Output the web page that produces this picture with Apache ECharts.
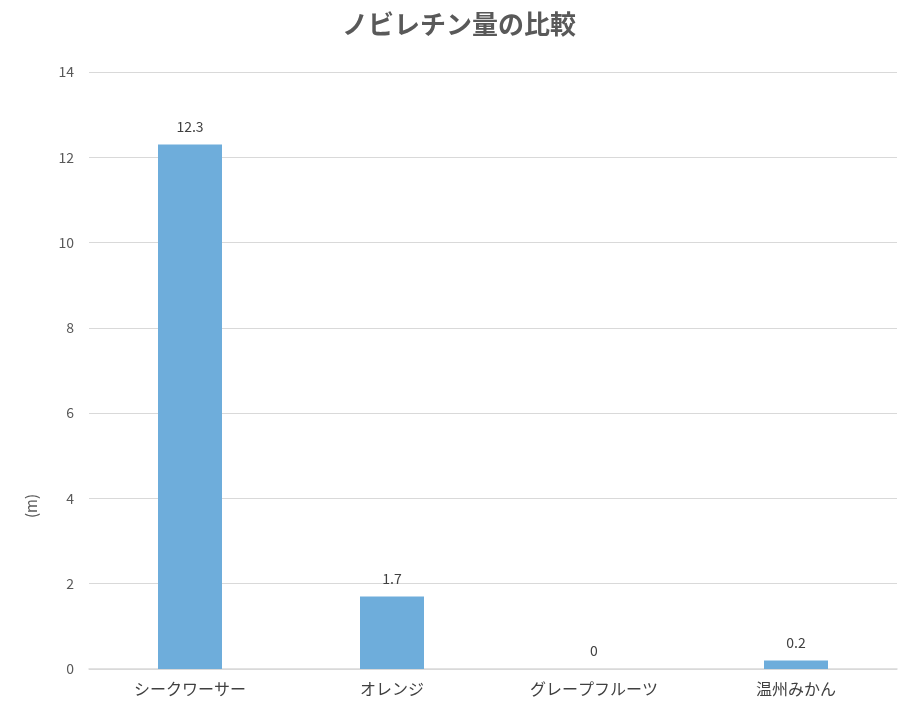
<!DOCTYPE html>
<html><head><meta charset="utf-8">
<script src="https://cdn.jsdelivr.net/npm/echarts@6/dist/echarts.min.js"></script>
<style>html,body{margin:0;padding:0;background:#fff}#c{width:918px;height:708px}</style>
</head><body><div id="c"></div>
<script>
const categories = ["シークワーサー", "オレンジ", "グレープフルーツ", "温州みかん"];
const values = [12.3, 1.7, 0, 0.2];
const yTicks = [0, 2, 4, 6, 8, 10, 12, 14];
const font = '"Noto Sans CJK JP", "Noto Sans", sans-serif';
const chart = echarts.init(document.getElementById('c'));
chart.setOption({
  animation: false,
  title: {
    text: 'ノビレチン量の比較', left: 'center', top: 6,
    textStyle: { fontFamily: font, fontSize: 26, fontWeight: 'bold', color: '#595959' }
  },
  graphic: [{
    type: 'text', left: 24, top: 494, rotation: Math.PI / 2,
    style: { text: '(m)', font: '15px ' + font, fill: '#595959' }
  }],
  grid: { left: 89, right: 21, top: 72, bottom: 39, containLabel: false },
  xAxis: {
    type: 'category', data: categories,
    axisLine: { lineStyle: { color: '#d9d9d9', width: 1.5 } },
    axisTick: { show: false },
    axisLabel: { fontFamily: font, fontSize: 16, color: '#404040', margin: 12 }
  },
  yAxis: {
    type: 'value', min: yTicks[0], max: yTicks[yTicks.length - 1], interval: 2,
    axisLine: { show: false }, axisTick: { show: false },
    axisLabel: { fontFamily: font, fontSize: 14, color: '#595959', margin: 15 },
    splitLine: { lineStyle: { color: '#d9d9d9', width: 1 } }
  },
  series: [{
    type: 'bar', data: values, barWidth: 64,
    itemStyle: { color: '#6eaddb' },
    label: { show: true, position: 'top', distance: 11, fontFamily: font, fontSize: 14, color: '#404040' }
  }]
});
</script></body></html>
